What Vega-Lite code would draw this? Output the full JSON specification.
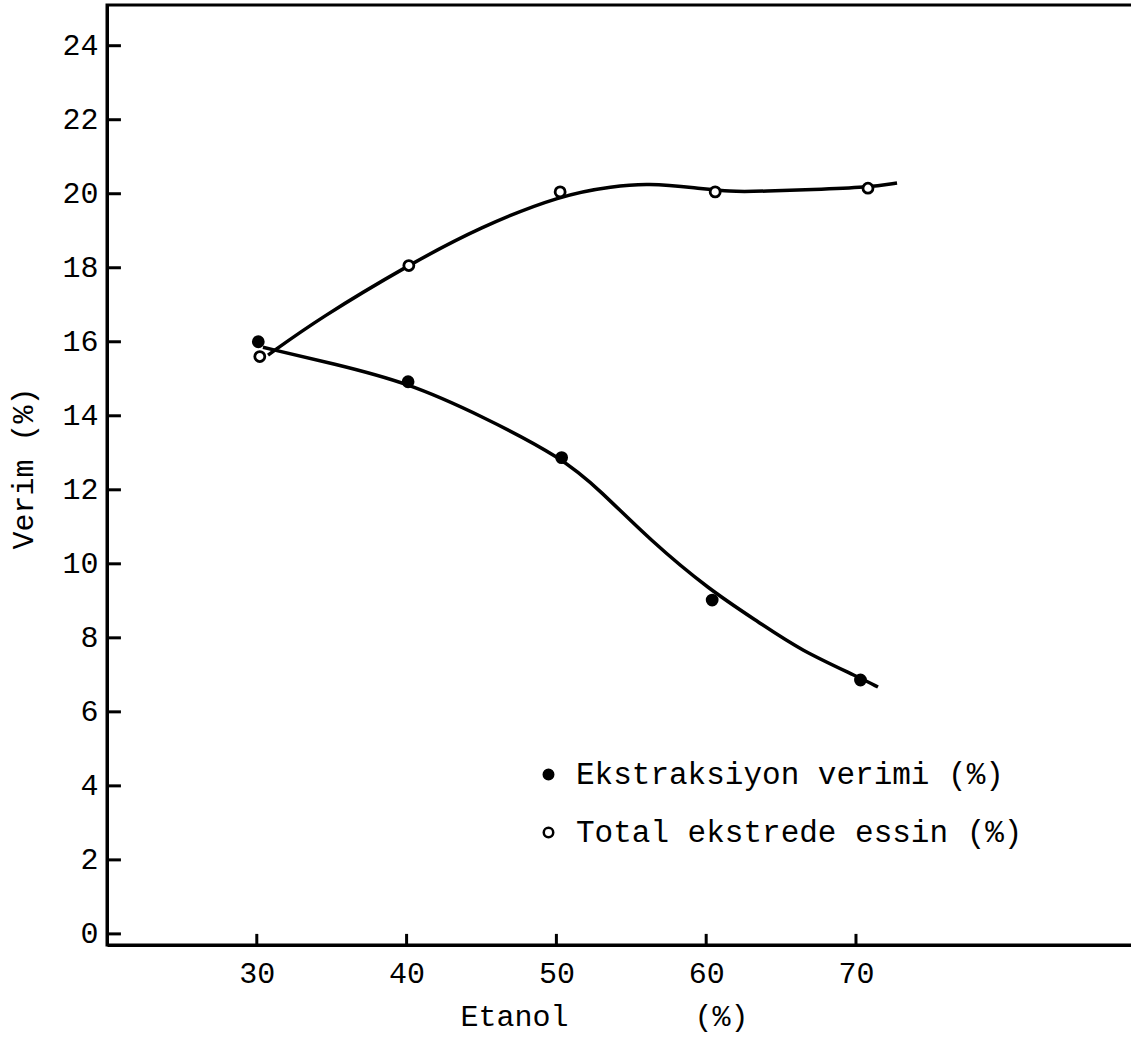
{
  "$schema": "https://vega.github.io/schema/vega-lite/v6.json",
  "width": 1030,
  "height": 940,
  "autosize": {"type": "none"},
  "padding": {"left": 107, "top": 5, "right": 0, "bottom": 104},
  "background": "white",
  "config": {"view": {"stroke": "black", "strokeWidth": 3}, "font": "Liberation Mono"},
  "datasets": {
    "points": [
      {"series": "Ekstraksiyon verimi (%)", "etanol": 30.1, "verim": 16.0},
      {"series": "Ekstraksiyon verimi (%)", "etanol": 40.1, "verim": 14.92},
      {"series": "Ekstraksiyon verimi (%)", "etanol": 50.35, "verim": 12.87},
      {"series": "Ekstraksiyon verimi (%)", "etanol": 60.4, "verim": 9.02},
      {"series": "Ekstraksiyon verimi (%)", "etanol": 70.3, "verim": 6.86},
      {"series": "Total ekstrede essin (%)", "etanol": 30.2, "verim": 15.6},
      {"series": "Total ekstrede essin (%)", "etanol": 40.15, "verim": 18.06},
      {"series": "Total ekstrede essin (%)", "etanol": 50.25, "verim": 20.05},
      {"series": "Total ekstrede essin (%)", "etanol": 60.6, "verim": 20.05},
      {"series": "Total ekstrede essin (%)", "etanol": 70.8, "verim": 20.15}
    ],
    "curves": [
      {"series": "Total", "etanol": 30.75, "verim": 15.64},
      {"series": "Total", "etanol": 34.2, "verim": 16.64},
      {"series": "Total", "etanol": 40.15, "verim": 18.08},
      {"series": "Total", "etanol": 44.9, "verim": 19.1},
      {"series": "Total", "etanol": 50.4, "verim": 19.98},
      {"series": "Total", "etanol": 53.8, "verim": 20.2},
      {"series": "Total", "etanol": 56.05, "verim": 20.28},
      {"series": "Total", "etanol": 59.4, "verim": 20.16},
      {"series": "Total", "etanol": 61.5, "verim": 20.05},
      {"series": "Total", "etanol": 64.0, "verim": 20.07},
      {"series": "Total", "etanol": 67.0, "verim": 20.11},
      {"series": "Total", "etanol": 70.8, "verim": 20.17},
      {"series": "Total", "etanol": 72.74, "verim": 20.29},
      {"series": "Ekstraksiyon", "etanol": 30.41, "verim": 15.85},
      {"series": "Ekstraksiyon", "etanol": 35.2, "verim": 15.4},
      {"series": "Ekstraksiyon", "etanol": 40.03, "verim": 14.9},
      {"series": "Ekstraksiyon", "etanol": 45.0, "verim": 14.0},
      {"series": "Ekstraksiyon", "etanol": 50.4, "verim": 12.86},
      {"series": "Ekstraksiyon", "etanol": 52.9, "verim": 11.99},
      {"series": "Ekstraksiyon", "etanol": 56.25, "verim": 10.64},
      {"series": "Ekstraksiyon", "etanol": 60.2, "verim": 9.3},
      {"series": "Ekstraksiyon", "etanol": 63.6, "verim": 8.4},
      {"series": "Ekstraksiyon", "etanol": 66.26, "verim": 7.67},
      {"series": "Ekstraksiyon", "etanol": 70.33, "verim": 6.91},
      {"series": "Ekstraksiyon", "etanol": 71.47, "verim": 6.67}
    ],
    "xticks": [{"v": 30}, {"v": 40}, {"v": 50}, {"v": 60}, {"v": 70}],
    "yticks": [{"v": 0}, {"v": 2}, {"v": 4}, {"v": 6}, {"v": 8}, {"v": 10}, {"v": 12}, {"v": 14}, {"v": 16}, {"v": 18}, {"v": 20}, {"v": 22}, {"v": 24}]
  },
  "layer": [
    {
      "data": {"name": "curves"},
      "mark": {"type": "line", "interpolate": "basis", "color": "black", "strokeWidth": 3.5},
      "encoding": {
        "x": {
          "field": "etanol",
          "type": "quantitative",
          "scale": {"domain": [20, 88.76], "nice": false, "zero": false},
          "axis": {
            "values": [30, 40, 50, 60, 70],
            "grid": false,
            "domainColor": "black",
            "domainWidth": 3,
            "ticks": false,
            "labelPadding": 13,
            "labelFont": "Liberation Mono",
            "labelFontSize": 30,
            "labelColor": "black",
            "title": "Etanol\u00a0\u00a0\u00a0\u00a0\u00a0\u00a0\u00a0(%)",
            "titleFont": "Liberation Mono",
            "titleFontSize": 30,
            "titleFontWeight": "normal",
            "titleColor": "black",
            "titleX": 497,
            "titleY": 80,
            "titleAlign": "center",
            "titleBaseline": "alphabetic"
          }
        },
        "y": {
          "field": "verim",
          "type": "quantitative",
          "scale": {"domain": [-0.3, 25.1], "nice": false, "zero": false},
          "axis": {
            "values": [0, 2, 4, 6, 8, 10, 12, 14, 16, 18, 20, 22, 24],
            "grid": false,
            "domainColor": "black",
            "domainWidth": 3,
            "ticks": false,
            "labelPadding": 9,
            "labelFont": "Liberation Mono",
            "labelFontSize": 30,
            "labelColor": "black",
            "title": "Verim (%)",
            "titleFont": "Liberation Mono",
            "titleFontSize": 30,
            "titleFontWeight": "normal",
            "titleColor": "black",
            "titleX": -75,
            "titleY": 463,
            "titleAlign": "center",
            "titleBaseline": "alphabetic"
          }
        },
        "detail": {"field": "series"},
        "order": {"field": "etanol"}
      }
    },
    {
      "data": {"name": "xticks"},
      "mark": {"type": "rule", "color": "black", "strokeWidth": 3},
      "encoding": {
        "x": {"field": "v", "type": "quantitative"},
        "y": {"datum": -0.3},
        "y2": {"datum": 0.0}
      }
    },
    {
      "data": {"name": "yticks"},
      "mark": {"type": "rule", "color": "black", "strokeWidth": 3},
      "encoding": {
        "y": {"field": "v", "type": "quantitative"},
        "x": {"datum": 20},
        "x2": {"datum": 20.93}
      }
    },
    {
      "data": {"name": "points"},
      "mark": {"type": "point", "shape": "circle", "size": 100, "strokeWidth": 2.8, "stroke": "black", "opacity": 1, "fillOpacity": 1},
      "encoding": {
        "x": {"field": "etanol", "type": "quantitative"},
        "y": {"field": "verim", "type": "quantitative"},
        "fill": {
          "field": "series",
          "type": "nominal",
          "scale": {"domain": ["Ekstraksiyon verimi (%)", "Total ekstrede essin (%)"], "range": ["black", "white"]},
          "legend": {
            "orient": "none",
            "legendX": 426,
            "legendY": 754,
            "title": null,
            "labelFont": "Liberation Mono",
            "labelFontSize": 31,
            "labelColor": "black",
            "labelLimit": 0,
            "labelOffset": 12,
            "rowPadding": 26,
            "symbolType": "circle",
            "symbolSize": 90,
            "symbolStrokeColor": "black",
            "symbolStrokeWidth": 2.5
          }
        }
      }
    }
  ]
}
